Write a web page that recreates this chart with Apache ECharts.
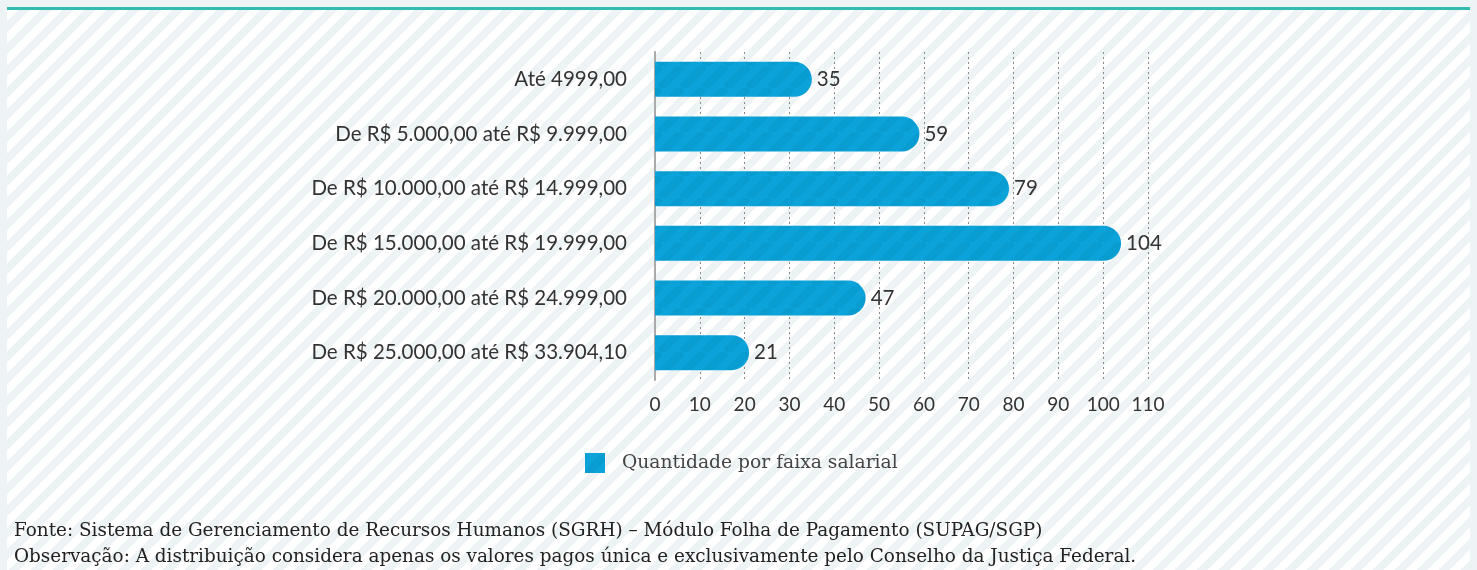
<!DOCTYPE html>
<html lang="pt">
<head>
  <meta charset="UTF-8">
  <title>Quantidade por faixa salarial</title>
  <script src="https://cdn.jsdelivr.net/npm/echarts@6/dist/echarts.min.js"></script>
  <style>
    html, body { margin: 0; padding: 0; background: #eef3f5; }
    #panel {
      position: absolute; left: 7px; top: 7px; width: 1463px; height: 563px;
      border-top: 3px solid #33bbb0;
      background: repeating-linear-gradient(135deg, #ffffff 0 7.8px, #eef3f5 7.8px 15.56px);
    }
    #main { position: absolute; left: 0; top: 0; width: 1477px; height: 570px; }
  </style>
</head>
<body>
  <div id="panel"></div>
  <div id="main"></div>
  <script type="text/javascript">
    // dados do gráfico
    var faixas = [
      'Até 4999,00',
      'De R$ 5.000,00 até R$ 9.999,00',
      'De R$ 10.000,00 até R$ 14.999,00',
      'De R$ 15.000,00 até R$ 19.999,00',
      'De R$ 20.000,00 até R$ 24.999,00',
      'De R$ 25.000,00 até R$ 33.904,10'
    ];
    var quantidades = [35, 59, 79, 104, 47, 21];
    var nomeSerie = 'Quantidade por faixa salarial';
    var notas = [
      'Fonte: Sistema de Gerenciamento de Recursos Humanos (SGRH) – Módulo Folha de Pagamento (SUPAG/SGP)',
      'Observação: A distribuição considera apenas os valores pagos única e exclusivamente pelo Conselho da Justiça Federal.'
    ];

    // padrão listrado das barras
    function listras(base, escura) {
      var s = 22;
      var c = document.createElement('canvas');
      c.width = s; c.height = s;
      var ctx = c.getContext('2d');
      ctx.fillStyle = base;
      ctx.fillRect(0, 0, s, s);
      ctx.strokeStyle = escura;
      ctx.lineWidth = 7.8;
      [-s, 0, s].forEach(function (x) {
        ctx.beginPath();
        ctx.moveTo(x, s);
        ctx.lineTo(x + s, 0);
        ctx.stroke();
      });
      return c;
    }
    var padrao = listras('#0ba3d9', '#089cd1');

    var myChart = echarts.init(document.getElementById('main'));

    var option = {
      backgroundColor: 'transparent',
      animation: false,
      grid: { left: 655, right: 329, top: 52, height: 328, containLabel: false },
      xAxis: {
        type: 'value',
        min: 0,
        max: 110,
        interval: 10,
        axisLine: { show: false },
        axisTick: { show: false },
        axisLabel: { color: '#333', fontSize: 19, fontFamily: 'Lato', margin: 15 },
        splitLine: { show: true, lineStyle: { color: '#888', type: [2, 3], width: 1 } }
      },
      yAxis: {
        type: 'category',
        inverse: true,
        data: faixas,
        axisLine: { show: true, lineStyle: { color: '#aaa', width: 2 } },
        axisTick: { show: false },
        axisLabel: { color: '#333', fontSize: 20.5, fontFamily: 'Lato', margin: 28 }
      },
      legend: {
        left: 580,
        top: 448,
        itemWidth: 20,
        itemHeight: 20,
        icon: 'rect',
        textStyle: { color: '#444', fontSize: 18.7, fontFamily: 'DejaVu Serif', padding: [0, 0, 0, 12] },
        data: [nomeSerie]
      },
      graphic: notas.map(function (t, i) {
        return {
          type: 'text',
          left: 14,
          top: 522 + i * 26,
          style: { text: t, fill: '#222', font: '18.4px "DejaVu Serif"' }
        };
      }),
      series: [{
        name: nomeSerie,
        type: 'bar',
        data: quantidades,
        barWidth: 35,
        itemStyle: {
          color: { image: padrao, repeat: 'repeat' },
          borderRadius: [0, 18, 18, 0]
        },
        label: {
          show: true,
          position: 'right',
          distance: 5,
          color: '#333',
          fontSize: 20.5,
          fontFamily: 'Lato'
        }
      }]
    };

    myChart.setOption(option);
  </script>
</body>
</html>
